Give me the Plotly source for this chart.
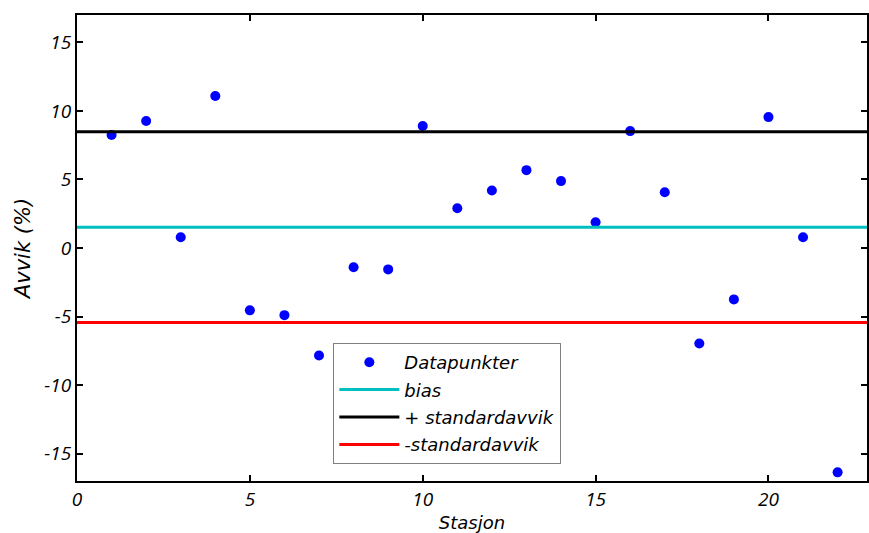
import plotly.graph_objects as go

stations = list(range(1, 23))
avvik = [8.24, 9.26, 0.78, 11.09, -4.55, -4.9, -7.84, -1.41, -1.56, 8.9, 2.9,
         4.2, 5.68, 4.88, 1.88, 8.53, 4.07, -6.97, -3.75, 9.55, 0.78, -16.37]
bias = 1.52
pluss_std = 8.48
minus_std = -5.43
x_range = [0, 22.85]
y_range = [-17, 17]
x_ticks = [0, 5, 10, 15, 20]
x_ticklabels = ["0", "5", "10", "15", "20"]
y_ticks = [-15, -10, -5, 0, 5, 10, 15]
y_ticklabels = ["-15", "-10", "-5", "0", "5", "10", "15"]

TICKFONT = "Open Sans"
TEXTFONT = "DejaVu Sans"

fig = go.Figure()
fig.add_trace(go.Scatter(x=stations, y=avvik, mode="markers", name="Datapunkter",
                         legendgroup="a",
                         marker=dict(color="#0000FF", size=10)))
fig.add_trace(go.Scatter(x=x_range, y=[bias, bias], mode="lines", name="bias",
                         legendgroup="b",
                         line=dict(color="#00BFBF", width=3)))
fig.add_trace(go.Scatter(x=x_range, y=[pluss_std, pluss_std], mode="lines",
                         name="+ standardavvik", legendgroup="c",
                         line=dict(color="#000000", width=3)))
fig.add_trace(go.Scatter(x=x_range, y=[minus_std, minus_std], mode="lines",
                         name="-standardavvik", legendgroup="d",
                         line=dict(color="#FF0000", width=3)))

tickfont = dict(family=TICKFONT, size=19, color="black", style="italic")
axis_common = dict(showgrid=False, zeroline=False, showline=True, linecolor="black",
                   linewidth=2, mirror="ticks", ticks="inside", ticklen=6,
                   tickwidth=2, tickcolor="black", tickfont=tickfont)

fig.update_xaxes(range=x_range, tickvals=x_ticks, ticktext=x_ticklabels,
                 title=dict(text="Stasjon", standoff=7,
                            font=dict(family=TEXTFONT, size=18, color="black", style="italic")),
                 **axis_common)
fig.update_yaxes(range=y_range, tickvals=y_ticks, ticktext=y_ticklabels,
                 ticklabelstandoff=0,
                 title=dict(text="Avvik (%)", standoff=8,
                            font=dict(family=TEXTFONT, size=21, color="black", style="italic")),
                 **axis_common)

fig.update_layout(
    width=869, height=533,
    margin=dict(l=77, r=0, t=15, b=52),
    paper_bgcolor="white", plot_bgcolor="white",
    showlegend=True,
    legend=dict(x=(334 - 77) / 792, y=(481 - 343) / 466, xanchor="left", yanchor="top",
                bgcolor="white", bordercolor="#808080", borderwidth=1,
                itemwidth=60, tracegroupgap=1, traceorder="grouped",
                font=dict(family=TEXTFONT, size=18, color="black", style="italic")),
)

fig.write_html("out.html", config={"displayModeBar": False},
               post_script="document.body.style.margin='0';document.body.style.overflow='hidden';")
